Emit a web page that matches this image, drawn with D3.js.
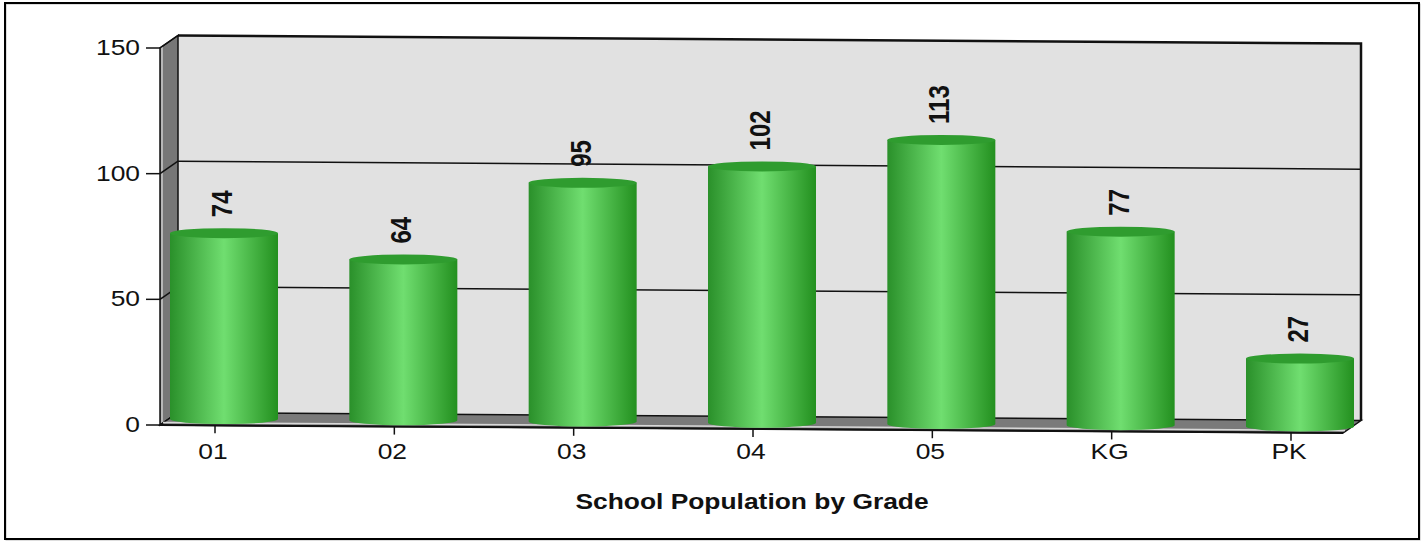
<!DOCTYPE html>
<html><head><meta charset="utf-8">
<script src="https://cdn.jsdelivr.net/npm/d3@7"></script>
<style>body{margin:0;background:#fff}svg{display:block}</style>
</head><body>
<svg id="c" width="1423" height="542"></svg>
<script>
const categories = ["01","02","03","04","05","KG","PK"];
const values = [74,64,95,102,113,77,27];
const yTicks = [0,50,100,150];
const title = "School Population by Grade";

const svg = d3.select("#c");
const FONT = "Arial, 'Liberation Sans', sans-serif";
const SX = 1.2; // horizontal stretch of text in the reference
const x0 = 160, x1 = 1343, DX = 18, DY = -12.5, tilt = 8/1183;
const y = d3.scaleLinear().domain([0,150]).range([425,48]);
const x = d3.scalePoint().domain(categories).range([215,1291]);
const P = (px, v, d) => [px + DX*d, y(v) + (px - x0)*tilt + DY*d];
const poly = pts => "M" + pts.map(p => p.join(",")).join("L") + "Z";

// outer frame
svg.append("rect").attr("x",6).attr("y",4).attr("width",1414).attr("height",536)
  .attr("fill","none").attr("stroke","#bbb").attr("stroke-width",1);
svg.append("rect").attr("x",5).attr("y",3).attr("width",1414).attr("height",536)
  .attr("fill","none").attr("stroke","#000").attr("stroke-width",2);

// back wall
svg.append("path").attr("d", poly([P(x0,0,1),P(x1,0,1),P(x1,150,1),P(x0,150,1)]))
  .attr("fill","#e1e1e1").attr("stroke","none");
yTicks.filter(t=>t>0 && t<150).forEach(t=>{
  svg.append("path").attr("d","M"+P(x0,t,1)+"L"+P(x1,t,1)).attr("stroke","#111").attr("stroke-width",1.5).attr("fill","none");
});
svg.append("path").attr("d","M"+P(x0,150,1)+"L"+P(x1,150,1)+"L"+P(x1,0,1))
  .attr("stroke","#111").attr("stroke-width",2.5).attr("fill","none");

// left wall
svg.append("path").attr("d", poly([P(x0,0,0),P(x0,150,0),P(x0,150,1),P(x0,0,1)]))
  .attr("fill","#777").attr("stroke","#111").attr("stroke-width",1.5);
svg.append("line").attr("x1",x0+2).attr("x2",x0+2).attr("y1",y(150)-1).attr("y2",y(0)-1)
  .attr("stroke","#ccc").attr("stroke-width",1.5);
yTicks.forEach(t=>{
  svg.append("path").attr("d","M"+P(x0,t,0)+"L"+P(x0,t,1)).attr("stroke","#111").attr("stroke-width",1.5);
});
// floor
svg.append("path").attr("d", poly([P(x0,0,0),P(x1,0,0),P(x1,0,1),P(x0,0,1)]))
  .attr("fill","#7a7a7a").attr("stroke","#111").attr("stroke-width",1.5);
svg.append("path").attr("d","M"+[x0+3,P(x0+3,0,0)[1]-2.5]+"L"+[x1+2,P(x1,0,0)[1]-2.5])
  .attr("stroke","#d8d8d8").attr("stroke-width",1.5);
svg.append("path").attr("d","M"+P(x0,0,0)+"L"+P(x1,0,0)).attr("stroke","#111").attr("stroke-width",2);

// y ticks and labels
yTicks.forEach(t=>{
  svg.append("line").attr("x1",x0-14).attr("x2",x0).attr("y1",y(t)).attr("y2",y(t)).attr("stroke","#111").attr("stroke-width",1.5);
  svg.append("text").attr("transform",`translate(140,${y(t)+7}) scale(${SX},1)`).attr("text-anchor","end")
    .attr("font-family",FONT).attr("font-size",22).attr("fill","#111").text(t);
});

// x ticks and labels
categories.forEach(c=>{
  const p = P(x(c),0,0);
  svg.append("line").attr("x1",p[0]).attr("x2",p[0]).attr("y1",p[1]).attr("y2",p[1]+8).attr("stroke","#111").attr("stroke-width",1.5);
  svg.append("text").attr("transform",`translate(${p[0]-2},459) scale(${SX},1)`).attr("text-anchor","middle")
    .attr("font-family",FONT).attr("font-size",22).attr("fill","#111").text(c);
});

// gradients
const defs = svg.append("defs");
const g = defs.append("linearGradient").attr("id","cyl").attr("x1","0").attr("x2","1").attr("y1","0").attr("y2","0");
[[0,"#2a902a"],[0.5,"#70de70"],[1,"#23901f"]].forEach(s=>g.append("stop").attr("offset",s[0]).attr("stop-color",s[1]));

// bars (cylinders)
const BW = 108, RY = 5;
categories.forEach((c,i)=>{
  const v = values[i];
  const cx = x(c) + DX/2;
  const yb = P(x(c),0,0.5)[1];
  const yt = P(x(c),v,0.5)[1];
  const gg = svg.append("g");
  gg.append("path").attr("d",
    `M${cx-BW/2},${yt}L${cx-BW/2},${yb}A${BW/2},${RY} 0 0 0 ${cx+BW/2},${yb}L${cx+BW/2},${yt}Z`)
    .attr("fill","url(#cyl)");
  gg.append("ellipse").attr("cx",cx).attr("cy",yt).attr("rx",BW/2).attr("ry",RY).attr("fill","#2f9c2f");
  svg.append("text").attr("transform",`translate(${cx+8},${yt-RY-11}) scale(${SX},1) rotate(-90)`)
    .attr("font-family",FONT).attr("font-size",24).attr("font-weight","bold").attr("fill","#111").text(v);
});

// title
svg.append("text").attr("transform",`translate(752,509) scale(${SX},1)`).attr("text-anchor","middle")
  .attr("font-family",FONT).attr("font-size",22).attr("font-weight","bold").attr("fill","#111").text(title);
</script>
</body></html>
